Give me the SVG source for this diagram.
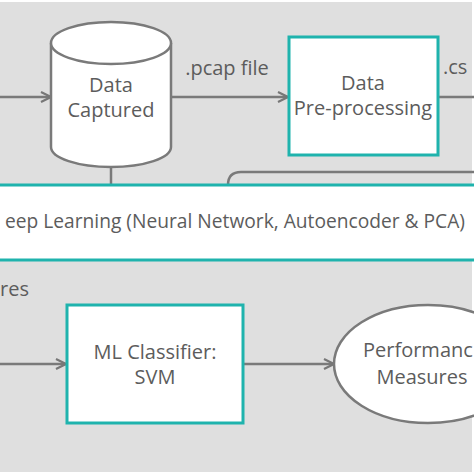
<svg xmlns="http://www.w3.org/2000/svg" width="474" height="474" viewBox="0 0 474 474">
<defs>
<marker id="arr" viewBox="0 0 12 12" refX="11" refY="6" markerWidth="12" markerHeight="12" markerUnits="userSpaceOnUse" orient="auto">
<path d="M1 1 L11 6 L1 11" fill="none" stroke="#777" stroke-width="2.2"/>
</marker>
<style>
.t{font-family:"Open Sans","Noto Sans",sans-serif;font-size:20px;fill:#5c5c5c;text-anchor:middle}
.s{text-anchor:start}
.ln{fill:none;stroke:#7a7a7a;stroke-width:2.5}
.box{fill:#fff;stroke:#1fb3ad;stroke-width:3}
</style>
</defs>
<rect x="0" y="0" width="474" height="474" fill="#fff"/>
<rect x="0" y="2" width="472" height="470" fill="#dfdfdf"/>
<g id="connectors">
<path class="ln" d="M0 97 L51 97" marker-end="url(#arr)"/>
<path class="ln" d="M171 97 L288 97" marker-end="url(#arr)"/>
<path class="ln" d="M439 97 L474 97"/>
<path class="ln" d="M111 166 L111 185"/>
<path class="ln" d="M228 185 Q228 172 241 172 L474 172"/>
<path class="ln" d="M0 364 L66 364" marker-end="url(#arr)"/>
<path class="ln" d="M244 364 L334 364" marker-end="url(#arr)"/>
<text class="t" x="227" y="75">.pcap file</text>
<text class="t s" x="443" y="74">.cs</text>
<text class="t s" x="0" y="296">res</text>
</g>
<g id="data-captured">
<path d="M51 43 L51 147 A60 20 0 0 0 171 147 L171 43" fill="#fff" stroke="#7a7a7a" stroke-width="2.5"/>
<ellipse cx="111" cy="43" rx="60" ry="21" fill="#fff" stroke="#7a7a7a" stroke-width="2.5"/>
<text class="t" x="111" y="92">Data</text>
<text class="t" x="111" y="117">Captured</text>
</g>
<g id="pre-processing">
<rect class="box" x="289" y="37" width="149" height="118"/>
<text class="t" x="363" y="90">Data</text>
<text class="t" x="363" y="115">Pre-processing</text>
</g>
<g id="deep-learning">
<rect x="-5" y="185" width="484" height="75" fill="#fff" stroke="#1fb3ad" stroke-width="3"/>
<text class="t" x="235" y="228" style="font-size:19.2px">eep Learning (Neural Network, Autoencoder &amp; PCA)</text>
</g>
<g id="ml-classifier">
<rect class="box" x="67" y="305" width="176" height="118"/>
<text class="t" x="155" y="359">ML Classifier:</text>
<text class="t" x="155" y="384">SVM</text>
</g>
<g id="performance">
<ellipse cx="428" cy="364" rx="94" ry="59" fill="#fff" stroke="#7a7a7a" stroke-width="2.5"/>
<text class="t s" x="363" y="357">Performanc</text>
<text class="t" x="422" y="384">Measures</text>
</g>
</svg>
